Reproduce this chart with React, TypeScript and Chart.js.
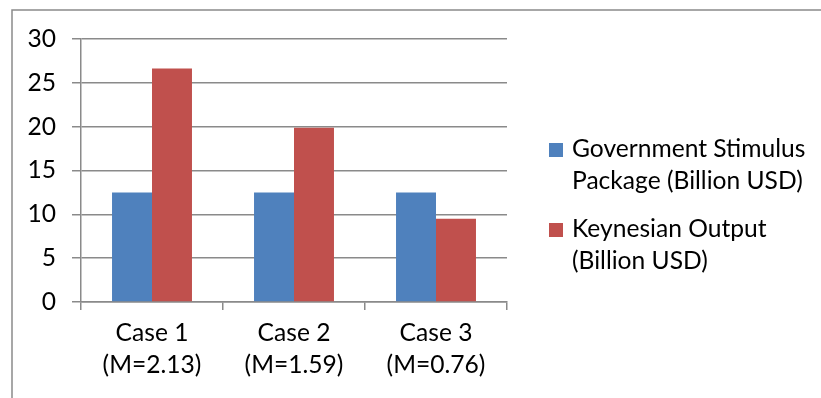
import React, { useEffect, useRef } from "react";
import { Chart, registerables } from "chart.js";

Chart.register(...registerables);

const categories: string[][] = [
  ["Case 1", "(M=2.13)"],
  ["Case 2", "(M=1.59)"],
  ["Case 3", "(M=0.76)"],
];
const stimulusValues: number[] = [12.5, 12.5, 12.5];
const keynesianValues: number[] = [26.63, 19.88, 9.5];
const stimulusName: string[] = ["Government Stimulus", "Package (Billion USD)"];
const keynesianName: string[] = ["Keynesian Output", "(Billion USD)"];
const yMin = 0;
const yMax = 30;
const yStep = 5;

const FONT = '"Lato", "Liberation Sans", sans-serif';
const FONT_SIZE = 24.6;
const GRID = "#8a8a8a";

const frame = {
  id: "frame",
  beforeDraw(chart: any) {
    const ctx = chart.ctx;
    ctx.save();
    ctx.strokeStyle = GRID;
    ctx.lineWidth = 1.5;
    ctx.strokeRect(12, 10, 2000, 2000);
    ctx.restore();
  },
};

const legendPlugin = {
  id: "sideLegend",
  afterDraw(chart: any) {
    const ctx = chart.ctx;
    ctx.save();
    ctx.font = `${FONT_SIZE}px ${FONT}`;
    ctx.fillStyle = "#000";
    ctx.textBaseline = "alphabetic";
    ctx.textAlign = "left";
    const names = [stimulusName, keynesianName];
    chart.data.datasets.forEach((ds: any, i: number) => {
      const top = 143 + i * 80;
      ctx.fillStyle = ds.backgroundColor;
      ctx.fillRect(549, top, 14, 14);
      ctx.fillStyle = "#000";
      names[i].forEach((line: string, j: number) => {
        ctx.fillText(line, 572, top + 14 + j * 32);
      });
    });
    ctx.restore();
  },
};

export default function App() {
  const ref = useRef<HTMLCanvasElement>(null);
  useEffect(() => {
    if (!ref.current) return;
    const chart = new Chart(ref.current, {
      type: "bar",
      data: {
        labels: categories,
        datasets: [
          {
            label: stimulusName.join(" "),
            data: stimulusValues,
            backgroundColor: "#4F81BD",
            categoryPercentage: 0.563,
            barPercentage: 1,
          },
          {
            label: keynesianName.join(" "),
            data: keynesianValues,
            backgroundColor: "#C0504D",
            categoryPercentage: 0.563,
            barPercentage: 1,
          },
        ],
      },
      options: {
        responsive: false,
        animation: false,
        devicePixelRatio: 1,
        layout: { padding: { left: 0, right: 314, top: 39, bottom: 0 } },
        plugins: {
          legend: { display: false },
          tooltip: { enabled: false },
        },
        scales: {
          x: {
            grid: {
              display: true,
              drawOnChartArea: false,
              drawTicks: true,
              tickLength: 8,
              color: GRID,
              lineWidth: 1.5,
              offset: true,
            },
            border: { display: true, color: GRID, width: 1.5 },
            ticks: {
              color: "#000",
              font: { family: FONT, size: FONT_SIZE, lineHeight: 32 / FONT_SIZE },
              padding: 7,
              maxRotation: 0,
              autoSkip: false,
            },
            afterFit(scale: any) {
              scale.height = 96;
            },
          },
          y: {
            min: yMin,
            max: yMax,
            ticks: {
              stepSize: yStep,
              color: "#000",
              font: { family: FONT, size: FONT_SIZE },
              padding: 16,
            },
            grid: {
              color: GRID,
              lineWidth: 1.5,
              tickLength: 9,
              drawTicks: true,
            },
            border: { display: true, color: GRID, width: 1.5 },
            afterFit(scale: any) {
              scale.width = 81;
            },
          },
        },
      },
      plugins: [frame, legendPlugin],
    });
    return () => chart.destroy();
  }, []);
  return (
    <div style={{ position: "absolute", left: 0, top: 0, width: 821, height: 398, background: "#fff" }}>
      <canvas ref={ref} width={821} height={398} />
    </div>
  );
}
